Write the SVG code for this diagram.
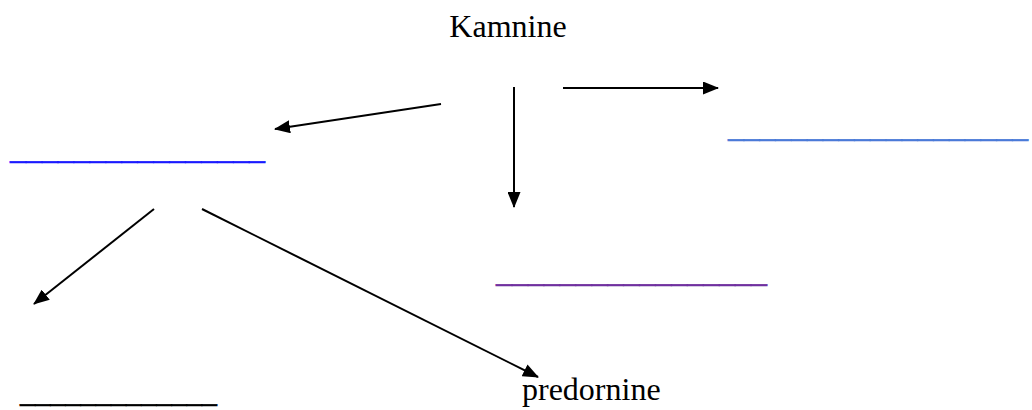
<svg xmlns="http://www.w3.org/2000/svg" width="1032" height="410" viewBox="0 0 1032 410">
<defs>
<style>
.t{font-family:"Liberation Serif","Times New Roman",serif;font-size:32px;fill:#000}
.u{stroke-width:0.6px}
.c line{stroke:#000;stroke-width:2;fill:none}
</style>
<marker id="ah" viewBox="0 0 16 13" refX="15" refY="6.5" markerWidth="16" markerHeight="13" markerUnits="userSpaceOnUse" orient="auto">
<path d="M0,0 L16,6.5 L0,13 z" fill="#000"/>
</marker>
</defs>
<rect width="1032" height="410" fill="#fff"/>
<g id="kamnine"><text class="t" x="508" y="37" text-anchor="middle">Kamnine</text></g>
<g id="left-blank"><text class="t u" x="10" y="159" textLength="255" lengthAdjust="spacingAndGlyphs" style="fill:#1a1aff;stroke:#1a1aff">________________</text></g>
<g id="right-blank"><text class="t u" x="728" y="136.5" textLength="300" lengthAdjust="spacingAndGlyphs" style="fill:#4a7ad8;stroke:#4a7ad8">___________________</text></g>
<g id="mid-blank"><text class="t u" x="496" y="281.5" textLength="271" lengthAdjust="spacingAndGlyphs" style="fill:#7030a0;stroke:#7030a0">_________________</text></g>
<g id="bottom-blank"><text class="t u" x="20" y="402" textLength="197" lengthAdjust="spacingAndGlyphs" style="stroke:#000">_____________</text></g>
<g id="predornine"><text class="t" x="522" y="400">predornine</text></g>
<g class="c" id="connectors">
<line x1="441" y1="104" x2="275" y2="129" marker-end="url(#ah)"/>
<line x1="514" y1="87" x2="514" y2="207" marker-end="url(#ah)"/>
<line x1="563" y1="88" x2="718" y2="88" marker-end="url(#ah)"/>
<line x1="154" y1="209" x2="34" y2="304" marker-end="url(#ah)"/>
<line x1="202" y1="209" x2="538" y2="377" marker-end="url(#ah)"/>
</g>
</svg>
